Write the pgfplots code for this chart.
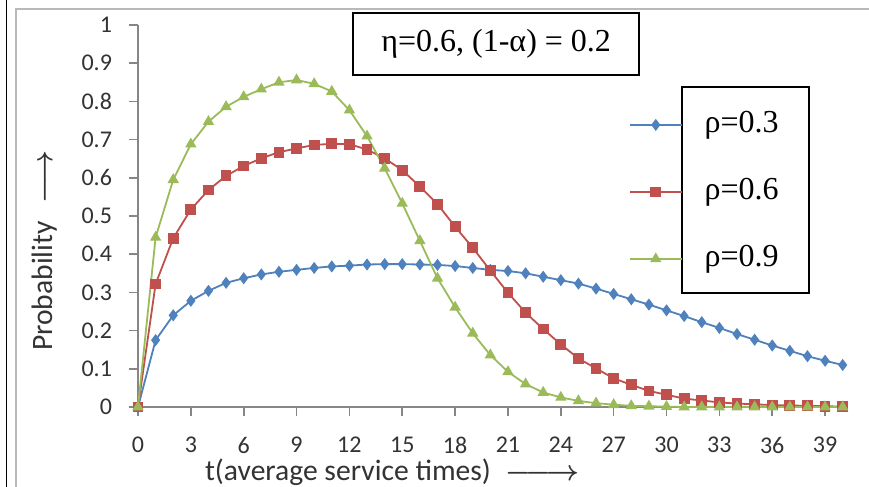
\documentclass[border=0pt]{standalone}
\usepackage{fontspec}
\usepackage{pgfplots}
\pgfplotsset{compat=1.18}
\setmainfont{Liberation Serif}
\newfontfamily\calibrifont{Carlito}
\definecolor{sblue}{HTML}{4F81BD}
\definecolor{sred}{HTML}{C0504D}
\definecolor{sgreen}{HTML}{9BBB59}
\definecolor{axgray}{HTML}{868686}

\begin{document}
\begin{tikzpicture}
\useasboundingbox (0,0) rectangle (434.5pt,243.5pt);
\fill[white] (0,0) rectangle (434.5pt,243.5pt);
% page border and chart-area frame
\draw[black, line width=0.6pt] (3.4pt,0) -- (3.4pt,243.5pt);
\draw[gray!55, line width=1pt] (8pt,-5pt) -- (8pt,238.8pt) -- (440pt,238.8pt);
\begin{axis}[
    at={(69pt,40pt)}, anchor=south west,
    scale only axis, width=355pt, height=191pt,
    xmin=0, xmax=40.3, ymin=0, ymax=1,
    axis x line*=bottom, axis y line*=left,
    axis line style={axgray, line width=0.8pt, -},
    xtick={0,3,...,39},
    ytick={0,0.1,0.2,0.3,0.4,0.5,0.6,0.7,0.8,0.9,1},
    tick style={axgray, line width=0.8pt},
    tick align=outside, major tick length=4.5pt,
    ticklabel style={font=\calibrifont\fontsize{12}{14}\selectfont, text=black!80},
    /pgf/number format/assume math mode=true,
    yticklabel style={xshift=-5pt},
    xticklabel style={inner sep=1pt, yshift=-9.5pt},
    xlabel={t(average service times)\enspace{\boldmath$\relbar\joinrel\longrightarrow$}},
    ylabel={Probability\hspace{0.6em}{\boldmath$\longrightarrow$}},
    label style={font=\calibrifont\fontsize{14.8}{17}\selectfont, text=black!80},
    xlabel style={at={(axis description cs:0.358,-0.171)}, anchor=center, inner sep=0pt},
    ylabel style={at={(axis description cs:-0.132,0.41)}, anchor=center},
    clip=false,
    legend style={at={(axis cs:27.84,0.563)}, anchor=west, draw=none, fill=none,
        inner sep=0pt, row sep=19pt,
        font=\fontsize{16}{19}\selectfont,
        nodes={inner sep=0pt, text height=11pt, text depth=3.5pt}},
    legend cell align=left,
    legend image code/.code={\draw[mark repeat=2,mark phase=2]
        plot coordinates {(0pt,0pt)(13pt,0pt)(26pt,0pt)};},
]
% rho = 0.3
\addplot[sblue, line width=0.9pt, mark=diamond*, mark size=2.3pt,
    mark options={solid, fill=sblue}] table {
0 0
1 0.175
2 0.240
3 0.278
4 0.304
5 0.325
6 0.337
7 0.347
8 0.354
9 0.359
10 0.364
11 0.368
12 0.370
13 0.373
14 0.374
15 0.374
16 0.373
17 0.372
18 0.369
19 0.364
20 0.359
21 0.356
22 0.350
23 0.341
24 0.332
25 0.323
26 0.310
27 0.296
28 0.282
29 0.268
30 0.253
31 0.238
32 0.222
33 0.207
34 0.191
35 0.176
36 0.161
37 0.147
38 0.133
39 0.121
40 0.110
};
\addlegendentry{\hspace{11pt}ρ=0.3}
% rho = 0.6
\addplot[sred, line width=0.9pt, mark=square*, mark size=2.25pt,
    mark options={solid, fill=sred}] table {
0 0
1 0.322
2 0.442
3 0.517
4 0.568
5 0.605
6 0.631
7 0.651
8 0.667
9 0.677
10 0.686
11 0.689
12 0.688
13 0.674
14 0.651
15 0.620
16 0.577
17 0.531
18 0.472
19 0.417
20 0.357
21 0.299
22 0.247
23 0.204
24 0.164
25 0.127
26 0.101
27 0.075
28 0.058
29 0.042
30 0.032
31 0.022
32 0.017
33 0.012
34 0.009
35 0.007
36 0.005
37 0.004
38 0.003
39 0.002
40 0.001
};
\addlegendentry{\hspace{11pt}ρ=0.6}
% rho = 0.9
\addplot[sgreen, line width=0.9pt, mark=triangle*, mark size=2.4pt,
    mark options={solid, fill=sgreen}] table {
0 0
1 0.444
2 0.595
3 0.688
4 0.747
5 0.786
6 0.812
7 0.832
8 0.850
9 0.856
10 0.846
11 0.826
12 0.777
13 0.709
14 0.625
15 0.533
16 0.435
17 0.337
18 0.261
19 0.193
20 0.136
21 0.092
22 0.060
23 0.038
24 0.025
25 0.016
26 0.010
27 0.006
28 0.003
29 0.002
30 0.001
31 0
32 0
33 0
34 0
35 0
36 0
37 0
38 0
39 0
40 0
};
\addlegendentry{\hspace{11pt}ρ=0.9}
% text boxes
\node[draw, line width=0.9pt, minimum width=143pt, minimum height=31pt,
    inner sep=0pt, font=\fontsize{16}{19}\selectfont]
    at (axis cs:20.33,0.95) {η=0.6, (1-α) = 0.2};
\draw[line width=0.9pt] (axis cs:30.89,0.837) rectangle (axis cs:38.08,0.299);
\end{axis}
\end{tikzpicture}
\end{document}
